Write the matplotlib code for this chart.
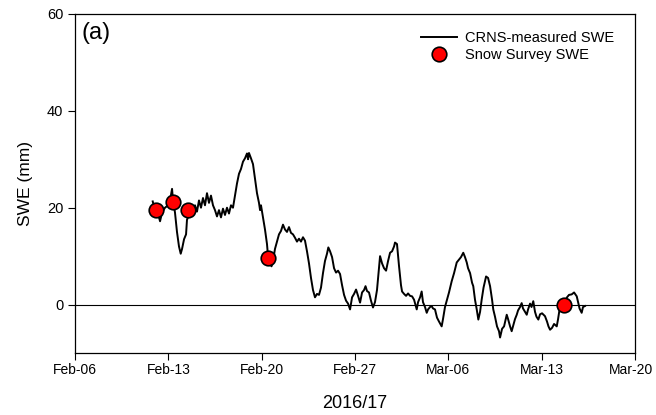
import pandas as pd
import numpy as np
import matplotlib.pyplot as plt
import matplotlib.dates as mdates
from matplotlib.transforms import ScaledTranslation

plt.rcParams['font.family'] = ['Liberation Sans', 'DejaVu Sans']

start = pd.Timestamp('2017-02-06')

# CRNS-measured SWE (days after Feb-06, mm)
crns_days = [5.83, 6.0, 6.15, 6.3, 6.38, 6.53, 6.75, 6.98, 7.13, 7.28, 7.35, 7.5, 7.65, 7.8, 7.93,
             8.03, 8.18, 8.33, 8.4, 8.55, 8.7, 8.85, 9.0, 9.15, 9.3, 9.45, 9.6, 9.75, 9.9, 10.05,
             10.2, 10.35, 10.5, 10.65, 10.8, 10.95, 11.1, 11.25, 11.4, 11.55, 11.7, 11.85, 12.0,
             12.15, 12.3, 12.45, 12.6, 12.75, 12.9, 12.98, 13.05, 13.2, 13.35, 13.5, 13.65, 13.8,
             13.88, 13.95, 14.1, 14.25, 14.4, 14.51, 14.63, 14.74, 14.85, 15.0, 15.15, 15.3, 15.45,
             15.6, 15.75, 15.9, 16.05, 16.2, 16.35, 16.5, 16.65, 16.8, 16.95, 17.1, 17.25, 17.4,
             17.55, 17.7, 17.85, 18.0, 18.15, 18.3, 18.45, 18.6, 18.75, 18.9, 19.0, 19.13, 19.28,
             19.43, 19.58, 19.73, 19.88, 20.03, 20.18, 20.33, 20.48, 20.63, 20.78, 20.93, 21.08,
             21.23, 21.38, 21.53, 21.68, 21.79, 21.9, 22.05, 22.2, 22.35, 22.5, 22.65, 22.8, 22.88,
             23.03, 23.18, 23.33, 23.48, 23.63, 23.78, 23.93, 24.0, 24.15, 24.3, 24.45, 24.53,
             24.68, 24.83, 24.98, 25.13, 25.28, 25.43, 25.63, 25.73, 25.88, 26.0, 26.1, 26.25,
             26.38, 26.48, 26.63, 26.75, 26.85, 27.0, 27.15, 27.3, 27.5, 27.6, 27.75, 27.9, 28.05,
             28.25, 28.43, 28.63, 28.8, 28.95, 29.12, 29.25, 29.38, 29.48, 29.63, 29.78, 29.87,
             30.0, 30.13, 30.25, 30.38, 30.5, 30.64, 30.83, 30.98, 31.13, 31.28, 31.37, 31.5,
             31.65, 31.8, 31.88, 32.03, 32.18, 32.38, 32.48, 32.63, 32.75, 32.85, 33.0, 33.13,
             33.23, 33.38, 33.5, 33.6, 33.75, 33.88, 33.98, 34.13, 34.24, 34.37, 34.5, 34.61,
             34.75, 34.88, 35.03, 35.25, 35.4, 35.51, 35.63, 35.78, 35.93, 36.13, 36.23, 36.38,
             36.53, 36.75, 36.9, 37.05, 37.25, 37.43, 37.63, 37.73, 37.84, 38.0, 38.1, 38.25]
crns_swe = [21.3, 19.5, 20.5, 18.0, 17.2, 19.0, 20.0, 20.5, 21.5, 23.9, 21.5, 19.0, 15.0, 12.0, 10.5,
            11.5, 13.5, 14.5, 17.5, 18.5, 19.8, 18.6, 20.5, 19.2, 21.5, 20.0, 22.0, 20.5, 23.0, 21.0,
            22.5, 20.5, 19.5, 18.2, 19.5, 18.0, 19.8, 18.5, 20.0, 18.8, 20.5, 20.0, 22.5,
            25.0, 27.0, 28.0, 29.5, 30.2, 31.2, 30.0, 31.3, 30.2, 29.0, 26.0, 23.0, 21.0,
            19.5, 20.5, 18.0, 15.5, 12.5, 9.0, 8.5, 7.9, 9.0, 11.5, 13.0, 14.5, 15.2,
            16.5, 15.5, 15.0, 16.0, 14.8, 14.5, 13.8, 13.0, 13.6, 13.0, 13.9, 13.2, 11.0,
            8.5, 5.5, 3.0, 1.5, 2.2, 2.0, 3.5, 6.5, 9.0, 10.5, 11.8, 11.0, 9.8,
            7.5, 6.6, 7.0, 6.3, 4.0, 2.0, 0.8, 0.2, -1.0, 1.5, 2.2, 3.1,
            1.8, 0.4, 2.5, 3.0, 3.8, 2.8, 2.5, 0.8, -0.6, 0.5, 3.0, 7.5, 10.0,
            8.5, 7.5, 7.0, 9.0, 10.7, 11.0, 12.0, 12.8, 12.5, 8.0, 4.0, 2.7,
            2.2, 1.8, 2.3, 1.8, 1.7, 1.0, -1.0, 0.5, 1.5, 2.7, 0.5, -0.5,
            -1.7, -1.0, -0.5, -0.3, -0.8, -1.0, -2.7, -3.5, -4.5, -3.0, -0.5, 1.0, 2.5,
            4.8, 6.5, 8.7, 9.3, 9.8, 10.7, 9.8, 8.7, 7.5, 6.5, 4.5, 3.8,
            1.0, -1.0, -3.1, -1.5, 1.0, 3.5, 5.8, 5.5, 3.8, 1.0, -1.0, -2.5,
            -4.5, -5.5, -6.8, -5.0, -4.5, -2.1, -3.0, -4.5, -5.5, -4.5, -3.0, -2.1,
            -1.2, -0.5, 0.3, -0.8, -1.5, -2.1, -1.0, 0.2, -0.5, 0.7, -1.5, -2.5,
            -3.1, -2.0, -1.8, -2.4, -3.5, -4.5, -5.2, -4.8, -4.0, -4.5, -3.0, -0.3,
            0.5, 0.5, 1.5, 2.0, 2.1, 2.5, 1.7, 0.5, -0.8, -1.7, -0.5, -0.3]

# Snow survey SWE
survey_dates = ['2017-02-12 02:00', '2017-02-13 09:00', '2017-02-14 12:00',
                '2017-02-20 12:00', '2017-03-14 16:00']
survey_swe = [19.6, 21.2, 19.6, 9.7, 0.0]

tick_dates = ['2017-02-06', '2017-02-13', '2017-02-20', '2017-02-27',
              '2017-03-06', '2017-03-13', '2017-03-20']

crns_time = start + pd.to_timedelta(crns_days, unit='D')
survey_time = pd.to_datetime(survey_dates)

fig = plt.figure(figsize=(6.56, 4.15), dpi=100)
ax = fig.add_axes([0.1143, 0.1494, 0.8537, 0.8169])

ax.axhline(0, color='black', lw=0.8, zorder=1)
ax.plot(crns_time, crns_swe, color='black', lw=1.4,
        label='CRNS-measured SWE', zorder=2)
ax.plot(survey_time, survey_swe, 'o', ms=10.5, mfc='red', mec='black', mew=1.2,
        label='Snow Survey SWE', zorder=3)

ax.set_xlim(pd.Timestamp(tick_dates[0]), pd.Timestamp(tick_dates[-1]))
ax.set_ylim(-10, 60)
ax.set_xticks(pd.to_datetime(tick_dates))
ax.xaxis.set_major_formatter(mdates.DateFormatter('%b-%d'))
ax.set_yticks([0, 20, 40, 60])
ax.tick_params(direction='out', length=5, width=0.8, labelsize=10)
ax.tick_params(axis='x', pad=2.5)
ax.tick_params(axis='y', pad=3.5, labelsize=10.5)
for s in ax.spines.values():
    s.set_linewidth(0.9)

# last date label sits against the figure edge, nudge it in a little
last = ax.get_xticklabels()[-1]
last.set_transform(last.get_transform() + ScaledTranslation(-3 / 72, 0, fig.dpi_scale_trans))

ax.set_ylabel('SWE (mm)', fontsize=12.5, labelpad=10)
ax.set_xlabel('2016/17', fontsize=13, labelpad=13)
ax.text(0.012, 0.975, '(a)', transform=ax.transAxes, fontsize=17, va='top')

ax.legend(loc='upper right', frameon=False, fontsize=10.5, handlelength=2.5,
          bbox_to_anchor=(0.984, 0.985), labelspacing=0.25, handletextpad=0.55,
          borderpad=0.3)

plt.savefig('out.png', dpi=100)
